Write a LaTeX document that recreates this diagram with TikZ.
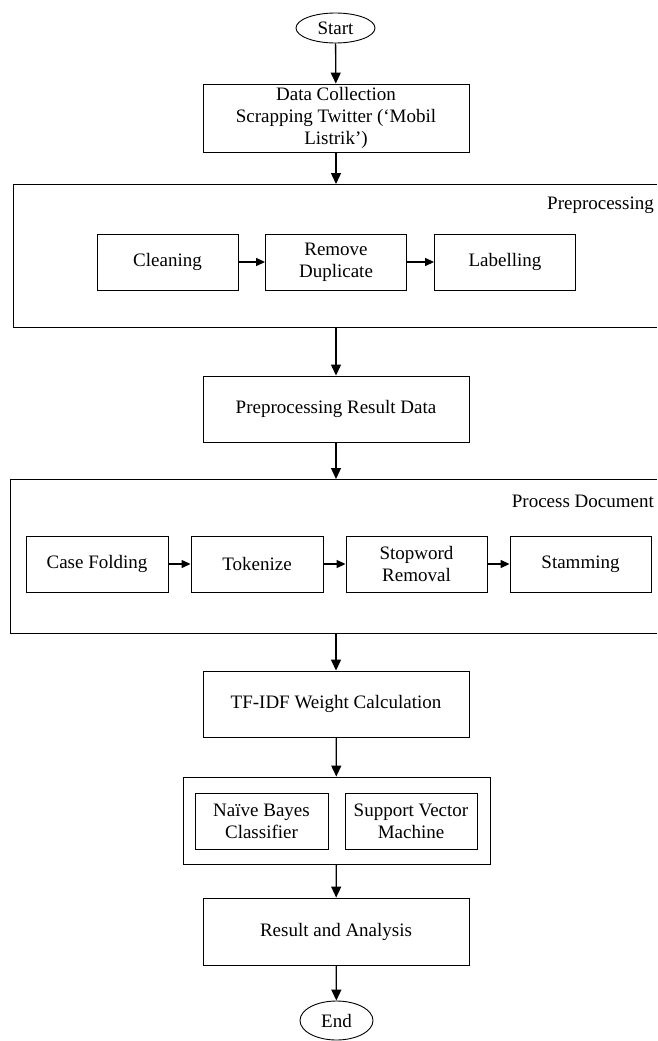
\documentclass[tikz,border=0pt]{standalone}
\usepackage{fontspec}
\setmainfont{Liberation Serif}
\usepackage{tikz}
\usetikzlibrary{arrows.meta,shapes.geometric}

\begin{document}
\begin{tikzpicture}[x=1pt,y=1pt,yscale=-1,xscale=1,
  line width=0.9pt,
  every node/.style={font=\fontsize{19}{22}\selectfont},
  bigbox/.style={draw,rectangle,minimum width=266pt,align=center,inner sep=0.75pt},
  stepbox/.style={draw,rectangle,minimum height=56pt,align=center,inner sep=0.75pt},
  endpoint/.style={draw,ellipse,inner sep=0pt},
  flow/.style={line width=1.3pt,-{Triangle[length=11pt,width=10pt]}},
  sideflow/.style={line width=1.3pt,-{Triangle[length=9pt,width=8pt]}}]
\useasboundingbox (0,0) rectangle (657,1041);

% Terminal Nodes
\node [endpoint,minimum width=79pt,minimum height=30pt] (start) at (335.5,28) {Start};
\node [endpoint,minimum width=73pt,minimum height=39pt] (finish) at (336.5,1020.5) {End};

% Text Node
\node [bigbox,minimum height=68pt] (collect) at (336,118) {Data Collection\\Scrapping Twitter (‘Mobil\\Listrik’)};

%Shape: Preprocessing frame
\draw (657,184) -- (13,184) -- (13,327) -- (657,327) ;
\coordinate (pretop) at (336,184);
\coordinate (prebot) at (336,327);
\node [anchor=east,inner sep=0.75pt] (pretitle) at (655,205) {Preprocessing};
\node [stepbox,minimum width=141pt] (clean) at (167.5,262) {Cleaning};
\node [stepbox,minimum width=141pt] (dedup) at (336,262) {Remove\\Duplicate};
\node [stepbox,minimum width=141pt] (label) at (505,262) {Labelling};

% Text Node
\node [bigbox,minimum height=66pt] (prepres) at (336,409) {Preprocessing Result Data};

%Shape: Process Document frame
\draw (657,479) -- (10,479) -- (10,633) -- (657,633) ;
\coordinate (proctop) at (336,479);
\coordinate (procbot) at (336,633);
\node [anchor=east,inner sep=0.75pt] (proctitle) at (655,501) {Process Document};
\node [stepbox,minimum width=142pt] (fold) at (97,564) {Case Folding};
\node [stepbox,minimum width=132pt] (token) at (257,564) {Tokenize};
\node [stepbox,minimum width=141pt] (stopw) at (416.5,564) {Stopword\\Removal};
\node [stepbox,minimum width=141pt] (stem) at (580.5,564) {Stamming};

% Text Node
\node [bigbox,minimum height=66pt] (tfidf) at (336,704) {TF-IDF Weight Calculation};

%Shape: classifier frame
\node [draw,rectangle,minimum width=307pt,minimum height=87pt] (clsbox) at (336.5,820.5) {};
\node [stepbox,minimum width=133pt] (nb) at (261.5,821) {Naïve Bayes\\Classifier};
\node [stepbox,minimum width=132pt] (svm) at (411,821) {Support Vector\\Machine};

% Text Node
\node [bigbox,minimum height=67pt] (result) at (336,931.5) {Result and Analysis};

%Straight Lines
\draw [flow] (start) -- (collect);
\draw [flow] (collect) -- (pretop);
\draw [flow] (prebot) -- (prepres);
\draw [flow] (prepres) -- (proctop);
\draw [flow] (procbot) -- (tfidf);
\draw [flow] (tfidf) -- (clsbox);
\draw [flow] (clsbox) -- (result);
\draw [flow] (result) -- (finish);
%Straight Lines
\draw [sideflow] (clean) -- (dedup);
\draw [sideflow] (dedup) -- (label);
\draw [sideflow] (fold) -- (token);
\draw [sideflow] (token) -- (stopw);
\draw [sideflow] (stopw) -- (stem);

\end{tikzpicture}
\end{document}
